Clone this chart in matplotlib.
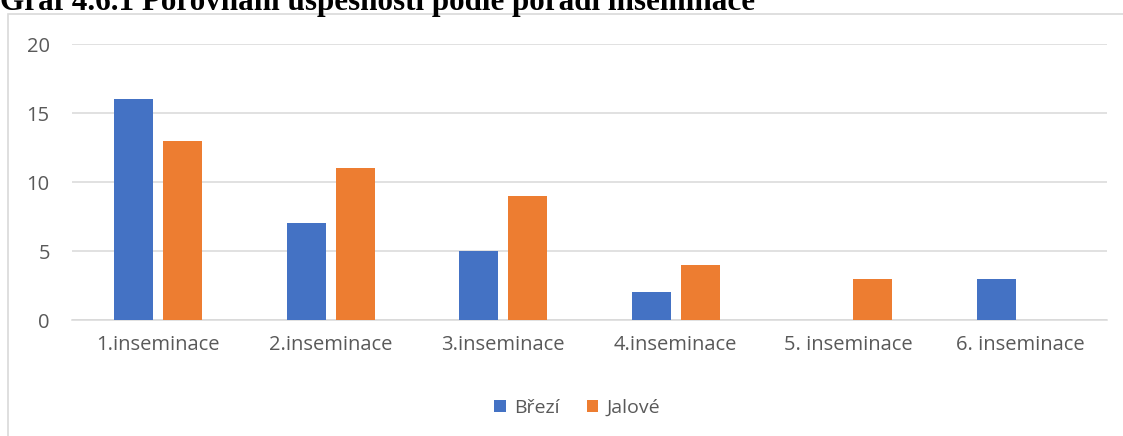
import numpy as np
import matplotlib.pyplot as plt
from matplotlib.patches import Rectangle

categories = ['1.inseminace', '2.inseminace', '3.inseminace', '4.inseminace',
              '5. inseminace', '6. inseminace']
brezi = [16, 7, 5, 2, 0, 3]
jalove = [13, 11, 9, 4, 3, 0]
series_names = ['Březí', 'Jalové']
title = 'Graf 4.6.1 Porovnání úspěšnosti podle pořadí inseminace'

W, H = 1123, 436
fig = plt.figure(figsize=(W / 100, H / 100), dpi=100)

# chart frame (cut off at right and bottom)
fig.patches.append(Rectangle((8 / W, -0.1), 1.2, 1 - 14 / H + 0.1,
                             transform=fig.transFigure, fill=False,
                             edgecolor='#d9d9d9', lw=1.2))

# title, clipped at the top like in the source
fig.text(0, 1 - 10 / H, title, fontsize=22.4, fontweight='bold',
         family='Liberation Serif', va='baseline', ha='left')

ax = fig.add_axes([72 / W, 1 - 320 / H, (1107 - 72) / W, (320 - 44) / H])
x = np.arange(len(categories))
w = 0.225
ax.bar(x - 0.142, brezi, w, color='#4472c4', label=series_names[0], zorder=3)
ax.bar(x + 0.142, jalove, w, color='#ed7d31', label=series_names[1], zorder=3)

ax.set_xlim(-0.5, len(categories) - 0.5)
ax.set_ylim(0, 20)
ax.set_yticks([0, 5, 10, 15, 20])
ax.set_xticks(x)
ax.set_xticklabels(categories)
ax.grid(axis='y', color='#d9d9d9', lw=1.1, zorder=0)
for s in ['top', 'right', 'left']:
    ax.spines[s].set_visible(False)
ax.spines['bottom'].set_color('#d9d9d9')
ax.spines['bottom'].set_linewidth(1.1)
ax.tick_params(length=0, labelsize=14.5, labelcolor='#595959', pad=11,
               labelfontfamily='Open Sans')
ax.tick_params(axis='y', pad=16)

leg = fig.legend(loc='center', bbox_to_anchor=(577 / W, 1 - 408 / H), ncol=2,
                 frameon=False, prop={'family': 'Open Sans', 'size': 14},
                 handlelength=0.6, handleheight=0.6, handletextpad=0.4,
                 columnspacing=1.4)
for t in leg.get_texts():
    t.set_color('#595959')

fig.savefig('out.png', dpi=100)
